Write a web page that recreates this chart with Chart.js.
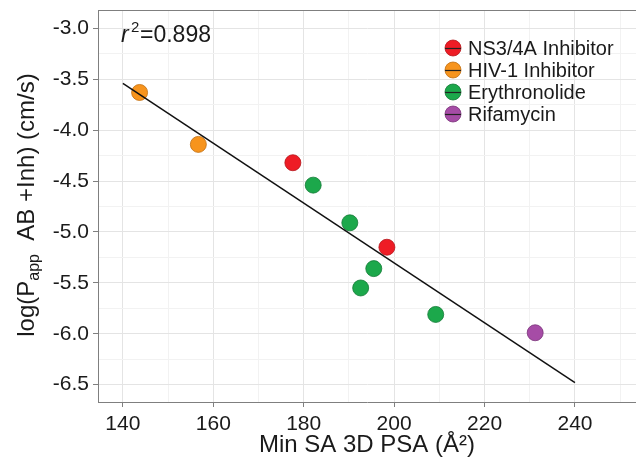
<!DOCTYPE html>
<html><head><meta charset="utf-8">
<script src="https://cdn.jsdelivr.net/npm/chart.js@4/dist/chart.umd.min.js"></script>
<style>html,body{margin:0;padding:0;background:#fff;}canvas{display:block;}</style>
</head><body>
<canvas id="c" width="636" height="457" style="width:636px;height:457px"></canvas>
<script>
// ---- data ----
const seriesNames = ['NS3/4A Inhibitor', 'HIV-1 Inhibitor', 'Erythronolide', 'Rifamycin'];
const seriesColors = ['#ee1c25', '#f7941d', '#1ca84b', '#a64ca6'];
const seriesBorders = ['#b5161c', '#c06f12', '#137a36', '#7a337a'];
const ns3X = [177.6, 198.4];
const ns3Y = [-4.32, -5.15];
const hivX = [143.7, 156.7];
const hivY = [-3.63, -4.14];
const eryX = [182.1, 190.2, 195.5, 192.6, 209.2];
const eryY = [-4.54, -4.91, -5.36, -5.55, -5.81];
const rifX = [231.2];
const rifY = [-5.99];
const fitX = [140, 240];
const fitY = [-3.54, -6.48];
const xMajorTicks = [140, 160, 180, 200, 220, 240];
const xMinorTicks = [150, 170, 190, 210, 230, 250];
const yMajorTicks = [-6.5, -6.0, -5.5, -5.0, -4.5, -4.0, -3.5, -3.0];
const yMinorTicks = [-6.25, -5.75, -5.25, -4.75, -4.25, -3.75, -3.25];
const r2Value = '0.898';
const xTitle = 'Min SA 3D PSA (Å²)';

const FONT = '"Liberation Sans", Arial, Helvetica, sans-serif';
const TXT = '#1a1a1a';
const AXIS = '#7f7f7f';

function pts(xs, ys) { return xs.map((x, i) => ({ x: x, y: ys[i] })); }
const groupX = [ns3X, hivX, eryX, rifX];
const groupY = [ns3Y, hivY, eryY, rifY];

const datasets = [{
  type: 'line', label: 'fit', data: pts(fitX, fitY), borderColor: '#111', borderWidth: 1.5,
  pointRadius: 0, fill: false, order: 0
}];
seriesNames.forEach((n, i) => datasets.push({
  type: 'scatter', label: n, data: pts(groupX[i], groupY[i]),
  backgroundColor: seriesColors[i], borderColor: seriesBorders[i], borderWidth: 0.8,
  pointRadius: 8, pointHoverRadius: 8, order: 1
}));

const isMajorX = v => xMajorTicks.includes(v);
const isMajorY = v => yMajorTicks.some(t => Math.abs(t - v) < 1e-9);

const decorPlugin = {
  id: 'decor',
  beforeDatasetsDraw(chart) {
    const ctx = chart.ctx, a = chart.chartArea;
    ctx.save();
    ctx.strokeStyle = AXIS; ctx.lineWidth = 1;
    ctx.beginPath(); ctx.moveTo(a.left, a.top + 0.5); ctx.lineTo(a.right, a.top + 0.5); ctx.stroke();
    ctx.restore();
  },
  afterDraw(chart) {
    const ctx = chart.ctx;
    ctx.save();
    // r^2 annotation
    ctx.fillStyle = TXT;
    ctx.textBaseline = 'alphabetic';
    ctx.textAlign = 'left';
    ctx.font = 'italic 23px ' + FONT;
    ctx.fillText('r', 121, 42);
    ctx.font = '15px ' + FONT;
    ctx.fillText('2', 131, 32);
    ctx.font = '23px ' + FONT;
    ctx.fillText('=' + r2Value, 140, 42);

    // legend
    seriesNames.forEach((n, i) => {
      const cx = 453, cy = 48 + i * 22;
      ctx.beginPath(); ctx.arc(cx, cy, 8, 0, Math.PI * 2);
      ctx.fillStyle = seriesColors[i]; ctx.fill();
      ctx.lineWidth = 0.8; ctx.strokeStyle = seriesBorders[i]; ctx.stroke();
      ctx.beginPath(); ctx.moveTo(cx - 8, cy + 0.5); ctx.lineTo(cx + 8, cy + 0.5);
      ctx.lineWidth = 1.2; ctx.strokeStyle = '#222'; ctx.stroke();
      ctx.fillStyle = TXT; ctx.font = '20px ' + FONT; ctx.textBaseline = 'middle';
      ctx.fillText(n, 468, cy + 1);
    });

    // y axis title with subscript
    const big = '24px ' + FONT, small = '16px ' + FONT;
    const parts = [['log(P', big, 0], ['app', small, 5], ['  AB +Inh) (cm/s)', big, 0]];
    let total = 0;
    parts.forEach(p => { ctx.font = p[1]; total += ctx.measureText(p[0]).width; });
    ctx.translate(34, 205);
    ctx.rotate(-Math.PI / 2);
    ctx.textBaseline = 'alphabetic';
    ctx.fillStyle = TXT;
    let x = -total / 2;
    parts.forEach(p => {
      ctx.font = p[1];
      ctx.fillText(p[0], x, p[2]);
      x += ctx.measureText(p[0]).width;
    });
    ctx.restore();
  }
};

new Chart(document.getElementById('c'), {
  data: { datasets: datasets },
  options: {
    responsive: false, animation: false, devicePixelRatio: 1,
    layout: { autoPadding: false, padding: { top: 10, right: -3, left: 0, bottom: 0 } },
    plugins: { legend: { display: false }, tooltip: { enabled: false } },
    events: [],
    scales: {
      x: {
        type: 'linear', min: 134.5, max: 253.5,
        afterBuildTicks: s => { s.ticks = xMajorTicks.concat(xMinorTicks).sort((a, b) => a - b).map(v => ({ value: v })); },
        afterFit: s => { s.height = 55; s.paddingLeft = 0; s.paddingRight = 0; },
        ticks: {
          autoSkip: false, maxRotation: 0, padding: 5, color: TXT,
          font: { family: FONT, size: 21 },
          callback: v => isMajorX(v) ? String(v) : ''
        },
        grid: {
          color: c => (c.tick && isMajorX(c.tick.value)) ? '#e4e4e4' : '#f2f2f2',
          tickColor: c => (c.tick && isMajorX(c.tick.value)) ? AXIS : 'rgba(0,0,0,0)',
          tickLength: 5, lineWidth: 1
        },
        border: { display: true, color: AXIS, width: 1 },
        title: { display: true, text: xTitle, color: TXT, font: { family: FONT, size: 24, lineHeight: 1.0 }, padding: 0 }
      },
      y: {
        type: 'linear', min: -6.67, max: -2.82,
        afterBuildTicks: s => { s.ticks = yMajorTicks.concat(yMinorTicks).sort((a, b) => a - b).map(v => ({ value: v })); },
        afterFit: s => { s.width = 98; s.paddingTop = 0; s.paddingBottom = 0; },
        ticks: {
          autoSkip: false, padding: 4, color: TXT,
          font: { family: FONT, size: 21 },
          callback: v => isMajorY(v) ? v.toFixed(1) : ''
        },
        grid: {
          color: c => (c.tick && isMajorY(c.tick.value)) ? '#e4e4e4' : '#f2f2f2',
          tickColor: c => (c.tick && isMajorY(c.tick.value)) ? AXIS : 'rgba(0,0,0,0)',
          tickLength: 5, lineWidth: 1
        },
        border: { display: true, color: AXIS, width: 1 }
      }
    }
  },
  plugins: [decorPlugin]
});
</script>
</body></html>
